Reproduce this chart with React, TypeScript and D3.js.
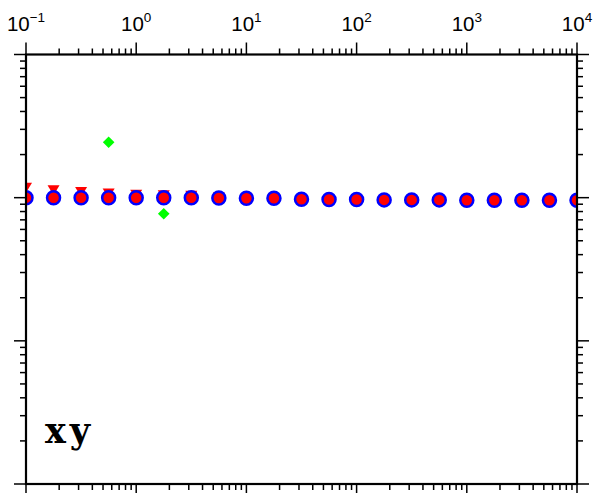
import React from "react";
import * as d3 from "d3";

const xValues = Array.from({ length: 21 }, (_, k) => +(Math.pow(10, -1 + 0.25 * k)).toPrecision(4));
const circleValues = [1, 1, 1, 1, 1, 1, 1, 0.995, 0.99, 0.99, 0.975, 0.97, 0.97, 0.965, 0.965, 0.965, 0.96, 0.96, 0.96, 0.96, 0.96];
const triangleValues = [1.19, 1.145, 1.115, 1.085, 1.065, 1.055, 1.05, 1.02, 1.0, 0.995, 0.98, 0.975, 0.97, 0.965, 0.965, 0.96, 0.96, 0.96, 0.96, 0.96, 0.96];
const diamondValues = [1.02, 0.985, 0.985, 2.44, 1.0, 0.773, 1.0, 1.0, 0.99, 0.985, 0.975, 0.97, 0.97, 0.97, 0.965, 0.965, 0.96, 0.965, 0.96, 0.965, 0.96];
const xTickExps = [-1, 0, 1, 2, 3, 4];
const yDomain = [0.01, 10];
const xDomain = [0.1, 10000];

const W = 593, H = 493;
const L = 26, R = 577, T = 54.5, B = 484;

export default function App() {
  const x = d3.scaleLog().domain(xDomain).range([L, R]);
  const y = d3.scaleLog().domain(yDomain).range([B, T]);

  const xMajor = xTickExps.map((e) => Math.pow(10, e));
  const xMinor: number[] = [];
  for (let e = -1; e < 4; e++) for (let m = 2; m <= 9; m++) xMinor.push(m * Math.pow(10, e));
  const yMajor = [0.01, 0.1, 1, 10];
  const yMinor: number[] = [];
  for (let e = -2; e < 1; e++) for (let m = 2; m <= 9; m++) yMinor.push(m * Math.pow(10, e));

  const tickStroke = { stroke: "#000", strokeWidth: 1.5 };
  const MAJ = 12, MIN = 6;

  return (
    <svg width={W} height={H} style={{ position: "absolute", left: 0, top: 0, background: "#fff" }}>
      <defs>
        <clipPath id="plotclip">
          <rect x={L} y={T} width={R - L} height={B - T} />
        </clipPath>
      </defs>
      <rect x={0} y={0} width={W} height={H} fill="#fff" />
      {xMajor.map((v, i) => (
        <g key={"xM" + i}>
          <line x1={x(v)} x2={x(v)} y1={T} y2={T - MAJ} {...tickStroke} />
          <line x1={x(v)} x2={x(v)} y1={B} y2={B + MAJ} {...tickStroke} />
        </g>
      ))}
      {xMinor.map((v, i) => (
        <g key={"xm" + i}>
          <line x1={x(v)} x2={x(v)} y1={T} y2={T - MIN} {...tickStroke} />
          <line x1={x(v)} x2={x(v)} y1={B} y2={B + MIN} {...tickStroke} />
        </g>
      ))}
      {yMajor.map((v, i) => (
        <g key={"yM" + i}>
          <line x1={L} x2={L - MAJ} y1={y(v)} y2={y(v)} {...tickStroke} />
          <line x1={R} x2={R + MAJ} y1={y(v)} y2={y(v)} {...tickStroke} />
        </g>
      ))}
      {yMinor.map((v, i) => (
        <g key={"ym" + i}>
          <line x1={L} x2={L - MIN} y1={y(v)} y2={y(v)} {...tickStroke} />
          <line x1={R} x2={R + MIN} y1={y(v)} y2={y(v)} {...tickStroke} />
        </g>
      ))}
      {xTickExps.map((e, i) => (
        <text
          key={"xl" + i}
          x={x(Math.pow(10, e))}
          y={30.5}
          textAnchor="middle"
          fontFamily="Liberation Sans, Arial, sans-serif"
          fontSize={20.5}
          fill="#000"
        >
          10
          <tspan dy={-9} fontSize={13.5}>
            {e < 0 ? "\u2212" + Math.abs(e) : String(e)}
          </tspan>
        </text>
      ))}
      <g clipPath="url(#plotclip)">
        {xValues.map((xv, i) => {
          const cx = x(xv), cy = y(diamondValues[i]);
          const s = 5.8;
          return (
            <path key={"d" + i} d={`M${cx},${cy - s}L${cx + s},${cy}L${cx},${cy + s}L${cx - s},${cy}Z`} fill="#00ff00" />
          );
        })}
        {xValues.map((xv, i) => {
          const cx = x(xv), cy = y(triangleValues[i]);
          return (
            <path key={"t" + i} d={`M${cx - 6},${cy - 4}L${cx + 6},${cy - 4}L${cx},${cy + 6}Z`} fill="#ff0000" />
          );
        })}
        {xValues.map((xv, i) => (
          <circle key={"c" + i} cx={x(xv)} cy={y(circleValues[i])} r={6.5} fill="#ff0000" stroke="#0000ff" strokeWidth={2.5} />
        ))}
      </g>
      <text x={45} y={443} fontFamily="DejaVu Serif, serif" fontWeight="bold" fontSize={35} letterSpacing={4} fill="#000">
        xy
      </text>
      <rect x={L} y={T} width={R - L} height={B - T} fill="none" stroke="#000" strokeWidth={2.2} />
    </svg>
  );
}
